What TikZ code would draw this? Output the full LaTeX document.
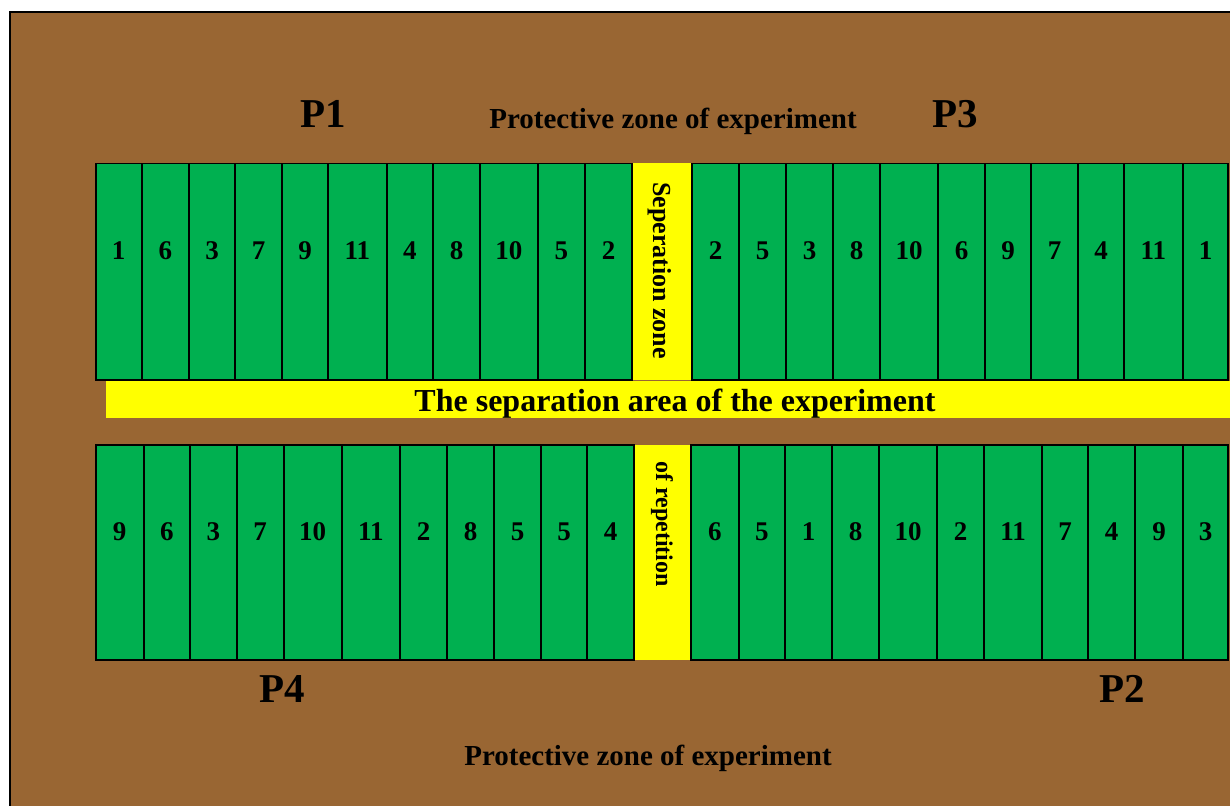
\documentclass[tikz,border=0pt]{standalone}
\usepackage{fontspec}
\setmainfont{Liberation Serif}
\definecolor{soil}{RGB}{153,102,51}
\definecolor{plotgreen}{RGB}{0,176,80}
\definecolor{zoneyellow}{RGB}{255,255,0}
\begin{document}
\begin{tikzpicture}[x=1pt,y=-1pt,
  field/.style={draw=black, line width=2pt, fill=soil, inner sep=0, outer sep=0, anchor=north west},
  cell/.style={draw=black, line width=1.8pt, fill=plotgreen, inner sep=0, outer sep=0},
  zone/.style={fill=zoneyellow, inner sep=0, outer sep=0},
  num/.style={font=\fontsize{27}{27}\selectfont\bfseries, inner sep=0, anchor=base},
  plotname/.style={font=\fontsize{41}{41}\selectfont\bfseries, inner sep=0, anchor=base},
  heading/.style={font=\fontsize{29}{29}\selectfont\bfseries, inner sep=0, anchor=base},
  bartext/.style={font=\fontsize{32}{32}\selectfont\bfseries, inner sep=0, anchor=base},
  vtext/.style={font=\fontsize{#1}{#1}\selectfont\bfseries, inner sep=0, rotate=-90}
]
\useasboundingbox (0,0) rectangle (1230,805);
\clip (0,0) rectangle (1230,805);

% ground of the experimental field
\node[field, minimum width=1240pt, minimum height=810pt] (field) at (10,12) {};

% yellow separation strips
\node[zone, minimum width=1130pt, minimum height=37pt, anchor=north west] (bar) at (106,380.7) {};
\node[zone, minimum width=59pt, minimum height=216.5pt] (sztop) at (662.3,271.75) {};
\node[zone, minimum width=57pt, minimum height=215pt] (szbot) at (662.5,552.5) {};

% upper block, left replication (P1)
\foreach \a/\b/\n [count=\i] in {95.7/141.7/1, 141.7/189/6, 189/235/3, 235/282/7, 282/328/9,
    328/386.7/11, 386.7/433/4, 433/480/8, 480/537.7/10, 537.7/585/5, 585/632.3/2} {
  \node[cell, minimum width={(\b-\a)*1pt}, minimum height=216.5pt] (ta\i) at ({(\a+\b)/2},271.75) {};
  \node[num] (nta\i) at ({(\a+\b)/2},259) {\n};
}
% upper block, right replication (P3)
\foreach \a/\b/\n [count=\i] in {692.3/739/2, 739/786/5, 786/833/3, 833/880/8, 880/938/10,
    938/985/6, 985/1031/9, 1031/1078/7, 1078/1124/4, 1124/1182.7/11, 1182.7/1228.3/1} {
  \node[cell, minimum width={(\b-\a)*1pt}, minimum height=216.5pt] (tb\i) at ({(\a+\b)/2},271.75) {};
  \node[num] (ntb\i) at ({(\a+\b)/2},259) {\n};
}
% lower block, left replication (P4)
\foreach \a/\b/\n [count=\i] in {95.7/143.7/9, 143.7/190/6, 190/236.7/3, 236.7/283.7/7, 283.7/341.7/10,
    341.7/400/11, 400/447/2, 447/494/8, 494/541/5, 541/587/5, 587/634/4} {
  \node[cell, minimum width={(\b-\a)*1pt}, minimum height=215pt] (ba\i) at ({(\a+\b)/2},552.5) {};
  \node[num] (nba\i) at ({(\a+\b)/2},540.7) {\n};
}
% lower block, right replication (P2)
\foreach \a/\b/\n [count=\i] in {691/738.7/6, 738.7/785/5, 785/832/1, 832/879/8, 879/937/10,
    937/984/2, 984/1042/11, 1042/1088/7, 1088/1135/4, 1135/1183/9, 1183/1228.3/3} {
  \node[cell, minimum width={(\b-\a)*1pt}, minimum height=215pt] (bb\i) at ({(\a+\b)/2},552.5) {};
  \node[num] (nbb\i) at ({(\a+\b)/2},540.7) {\n};
}

% labels
\node[bartext] (bartitle) at (675,411.7) {The separation area of the experiment};
\node[vtext=26] (sztext) at (659.5,270.5) {Seperation zone};
\node[vtext=24] (reptext) at (662,524) {of repetition};

\node[plotname] (p1) at (323.5,127.7) {P1};
\node[plotname] (p3) at (955,127.7) {P3};
\node[plotname] (p4) at (282.5,702) {P4};
\node[plotname] (p2) at (1122,702) {P2};
\node[heading] (ptop) at (673,128.3) {Protective zone of experiment};
\node[heading] (pbot) at (648,765) {Protective zone of experiment};
\end{tikzpicture}
\end{document}
